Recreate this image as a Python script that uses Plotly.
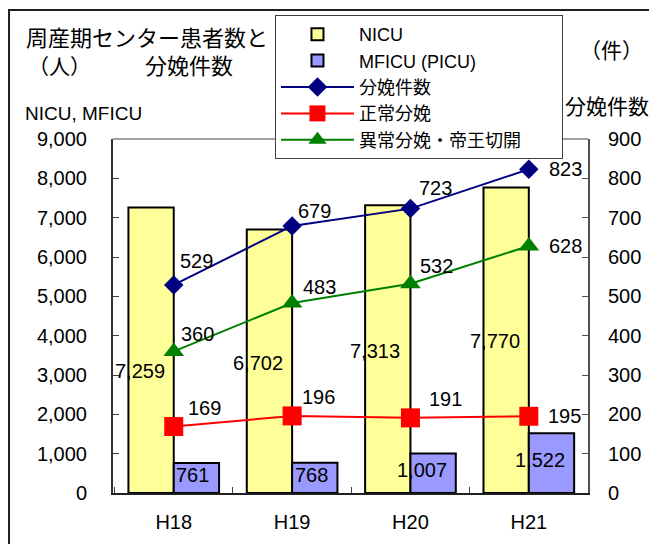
import plotly.graph_objects as go

years = ["H18", "H19", "H20", "H21"]
nicu = [7259, 6702, 7313, 7770]
mficu = [761, 768, 1007, 1522]
births = [529, 679, 723, 823]
normal = [169, 196, 191, 195]
abnormal = [360, 483, 532, 628]

FONT = "Liberation Sans, Noto Sans CJK JP, sans-serif"
NBSP = "\u00a0"

fig = go.Figure()
fig.add_trace(go.Bar(x=years, y=nicu, name="NICU", marker=dict(color="#FFFF99", line=dict(color="black", width=2)), yaxis="y"))
fig.add_trace(go.Bar(x=years, y=mficu, name="MFICU (PICU)", marker=dict(color="#9999FF", line=dict(color="black", width=2)), yaxis="y"))
fig.add_trace(go.Scatter(x=years, y=births, name="分娩件数", mode="lines+markers", yaxis="y2",
                         line=dict(color="#000080", width=2), marker=dict(symbol="diamond", size=15, color="#000080")))
fig.add_trace(go.Scatter(x=years, y=normal, name="正常分娩", mode="lines+markers", yaxis="y2",
                         line=dict(color="#FF0000", width=2), marker=dict(symbol="square", size=19, color="#FF0000")))
fig.add_trace(go.Scatter(x=years, y=abnormal, name="異常分娩・帝王切開" + NBSP * 7, mode="lines+markers", yaxis="y2",
                         line=dict(color="#008000", width=2), marker=dict(symbol="triangle-up", size=18, color="#008000")))

ann = []
half_group = 22.75
nicu_dx = [-11, -11, -13, -11]
nicu_dy = [21, 2, 2, 1]   # screen-down offsets
mficu_dx = [-4, -3, -11, -12]
for i, c in enumerate(years):
    ann.append(dict(x=c, y=nicu[i] / 2, xref="x", yref="y", text=f"{nicu[i]:,}", showarrow=False,
                    xshift=-half_group + nicu_dx[i], yshift=-nicu_dy[i], font=dict(size=20, color="black", family=FONT)))
    ann.append(dict(x=c, y=mficu[i] / 2, xref="x", yref="y", text=f"{mficu[i]:,}", showarrow=False,
                    xshift=half_group + mficu_dx[i], yshift=3, font=dict(size=20, color="black", family=FONT)))

line_offsets = {
    "births": ([23, 22, 25, 37], [-24, -15, -21, 0]),
    "abnormal": ([24, 27, 26, 37], [-17, -16, -18, 0]),
    "normal": ([31, 26, 35, 36], [-19, -19, -19, 0]),
}
for key, vals in (("births", births), ("abnormal", abnormal), ("normal", normal)):
    dxs, dys = line_offsets[key]
    for i, c in enumerate(years):
        ann.append(dict(x=c, y=vals[i], xref="x", yref="y2", text=str(vals[i]), showarrow=False,
                        xshift=dxs[i], yshift=-dys[i], font=dict(size=20, color="black", family=FONT)))

def txt(text, x, y, size, xanchor="center"):
    return dict(text=text, x=x, y=y, xref="paper", yref="paper", showarrow=False,
                xanchor=xanchor, yanchor="middle", font=dict(size=size, color="black", family=FONT))

ann += [
    txt("周産期センター患者数と", -0.1874, 1.2853, 22, "left"),
    txt("（人）", -0.1116, 1.2062, 21),
    txt("分娩件数", 0.16, 1.2062, 22),
    txt("NICU, MFICU", -0.1895, 1.0734, 19, "left"),
    txt("（件）", 1.0505, 1.2486, 21),
    txt("分娩件数", 1.041, 1.0932, 21),
]

axis_common = dict(showline=True, linewidth=2, ticks="inside", ticklen=6,
                   tickfont=dict(size=20), automargin=False)

# page body has an 8px margin, so the figure is drawn 8px smaller and offset
fig.update_layout(
    width=649, height=536, autosize=False,
    margin=dict(l=105, r=69, t=131, b=51, autoexpand=False),
    paper_bgcolor="white", plot_bgcolor="white",
    font=dict(family=FONT, size=20, color="black"),
    barmode="group", bargap=0.234, bargroupgap=0,
    showlegend=True,
    legend=dict(x=0.341, y=1.3503, xanchor="left", yanchor="top", bgcolor="white",
                bordercolor="#404040", borderwidth=1, font=dict(size=18, family=FONT),
                itemwidth=73, tracegroupgap=0),
    xaxis=dict(tickson="boundaries", ticklabelstandoff=10, linecolor="#202020",
               tickcolor="#404040", **axis_common),
    yaxis=dict(range=[0, 9000], dtick=1000, tickformat=",", showgrid=False, zeroline=False,
               ticklabelstandoff=20, linecolor="#303030", tickcolor="#404040", **axis_common),
    yaxis2=dict(range=[0, 900], dtick=100, overlaying="y", side="right", showgrid=False,
                zeroline=False, ticklabelstandoff=14, linecolor="#505050", tickcolor="#505050",
                **axis_common),
    annotations=ann,
    shapes=[
        dict(type="rect", xref="paper", yref="paper", x0=-0.2189, y0=-0.16, x1=1.16, y1=1.3644,
             line=dict(color="#202020", width=2), fillcolor="rgba(0,0,0,0)", layer="below"),
        dict(type="line", xref="paper", yref="paper", x0=0, y0=1, x1=1, y1=1,
             line=dict(color="#A0A0A0", width=2), layer="below"),
    ],
)

fig.write_html("out.html")
